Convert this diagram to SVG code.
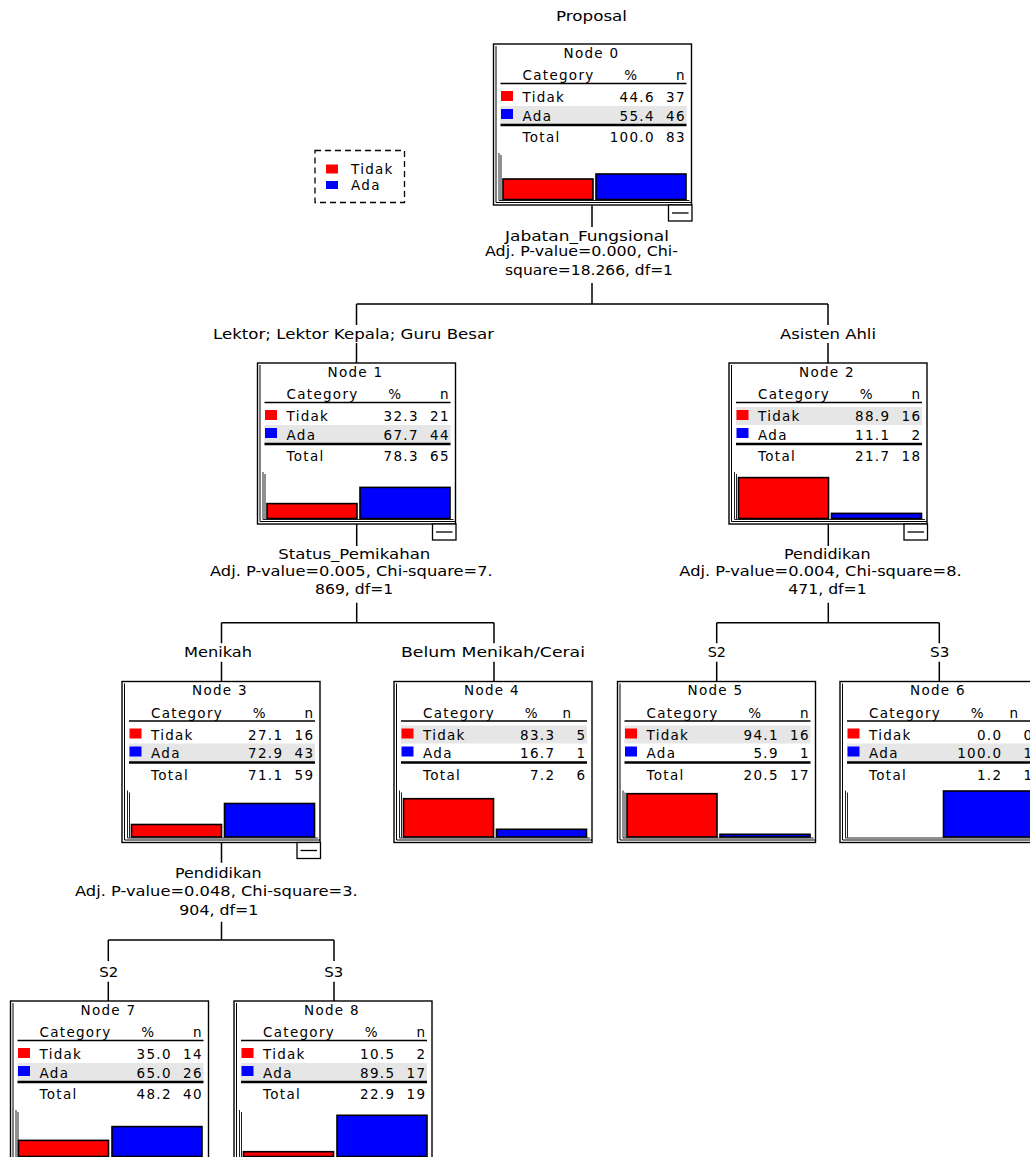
<svg xmlns="http://www.w3.org/2000/svg" width="1030" height="1157" viewBox="0 0 1030 1157">
<style>
text{font-family:"DejaVu Sans","Liberation Sans",sans-serif;font-size:13.5px;fill:#000}
.t{letter-spacing:1.3px}
.mid{text-anchor:middle}
.end{text-anchor:end}
.box{fill:#fff;stroke:#000;stroke-width:1.4}
.inner{fill:none;stroke:#000;stroke-width:1}
.hl{stroke:#000;stroke-width:1.5}
.dl{stroke:#000;stroke-width:2.5}
.band{fill:#e6e6e6}
.red{fill:#ff0000}
.blue{fill:#0000ff}
.bar{stroke:#000;stroke-width:1.6}
.axis{fill:none;stroke:#222;stroke-width:1}
.minus rect{fill:#fff;stroke:#000;stroke-width:1.3}
.minus line{stroke:#000;stroke-width:1.3}
.conn{fill:none;stroke:#000;stroke-width:1.5}
.legend{fill:none;stroke:#000;stroke-width:1.3;stroke-dasharray:6 4}
</style>

<text x="556" y="20.5" textLength="71" lengthAdjust="spacingAndGlyphs">Proposal</text>

<g id="legend">
<rect class="legend" x="315" y="150.5" width="89.5" height="52"/>
<rect class="red" x="326" y="164.5" width="12" height="9"/>
<text class="t" x="351" y="173.5">Tidak</text>
<rect class="blue" x="326" y="181" width="12" height="8"/>
<text class="t" x="351" y="189.5">Ada</text>
</g>

<g id="connectors" class="conn">
<path d="M592 205.5 V227 M592 283 V304 M356.5 304 H828 M356.5 304 V325 M828 304 V325 M356.5 343 V363 M828 343 V363"/>
<path d="M356.7 524 V546 M356.7 602.7 V622.7 M221.5 622.7 H494 M221.5 622.7 V643.3 M494 622.7 V643.3 M221.5 661.7 V681.5 M494 661.7 V681.5"/>
<path d="M828.3 524 V546 M828.3 602.7 V622.7 M716.7 622.7 H939.3 M716.7 622.7 V643.3 M939.3 622.7 V643.3 M716.7 661.7 V681.5 M939.3 661.7 V681.5"/>
<path d="M221.5 842.5 V862.7 M221.5 921.7 V940 M108.3 940 H334 M108.3 940 V961 M334 940 V961 M108.3 981.7 V1001 M334 981.7 V1001"/>
</g>

<g id="labels">
<text x="505" y="240.5" textLength="164" lengthAdjust="spacingAndGlyphs">Jabatan_Fungsional</text>
<text x="485" y="256" textLength="193" lengthAdjust="spacingAndGlyphs">Adj. P-value=0.000, Chi-</text>
<text x="505" y="275" textLength="168" lengthAdjust="spacingAndGlyphs">square=18.266, df=1</text>
<text x="213" y="338.5" textLength="281" lengthAdjust="spacingAndGlyphs">Lektor; Lektor Kepala; Guru Besar</text>
<text x="780" y="338.5" textLength="96" lengthAdjust="spacingAndGlyphs">Asisten Ahli</text>

<text x="278.3" y="558.5" textLength="152" lengthAdjust="spacingAndGlyphs">Status_Pemikahan</text>
<text x="210" y="576" textLength="282.7" lengthAdjust="spacingAndGlyphs">Adj. P-value=0.005, Chi-square=7.</text>
<text x="315" y="594" textLength="78.3" lengthAdjust="spacingAndGlyphs">869, df=1</text>
<text x="184" y="657" textLength="68" lengthAdjust="spacingAndGlyphs">Menikah</text>
<text x="401" y="657" textLength="184" lengthAdjust="spacingAndGlyphs">Belum Menikah/Cerai</text>

<text x="784" y="558.5" textLength="86.7" lengthAdjust="spacingAndGlyphs">Pendidikan</text>
<text x="679.3" y="576" textLength="282.4" lengthAdjust="spacingAndGlyphs">Adj. P-value=0.004, Chi-square=8.</text>
<text x="788.3" y="594" textLength="78.4" lengthAdjust="spacingAndGlyphs">471, df=1</text>
<text x="707.7" y="657" textLength="18.3" lengthAdjust="spacingAndGlyphs">S2</text>
<text x="930" y="657" textLength="19.3" lengthAdjust="spacingAndGlyphs">S3</text>

<text x="175" y="878" textLength="86.7" lengthAdjust="spacingAndGlyphs">Pendidikan</text>
<text x="75" y="896" textLength="282.7" lengthAdjust="spacingAndGlyphs">Adj. P-value=0.048, Chi-square=3.</text>
<text x="179.3" y="914.5" textLength="79" lengthAdjust="spacingAndGlyphs">904, df=1</text>
<text x="99.3" y="977" textLength="19" lengthAdjust="spacingAndGlyphs">S2</text>
<text x="324.3" y="977" textLength="19" lengthAdjust="spacingAndGlyphs">S3</text>
</g>

<g id="node0" transform="translate(493.5,44)">
<rect class="box" x="0" y="0" width="198" height="161"/>
<path class="inner" d="M2.5 2 V158.5 H198"/>
<text class="t mid" x="98" y="13.5">Node 0</text>
<text class="t" x="29" y="36">Category</text><text class="t mid" x="137.7" y="36">%</text><text class="t end" x="192.3" y="36">n</text>
<line class="hl" x1="7" y1="39.5" x2="193" y2="39.5"/>
<rect class="band" x="7" y="62" width="186" height="18"/>
<rect class="red" x="7.5" y="47" width="12" height="10"/>
<text class="t" x="29" y="58">Tidak</text><text class="t end" x="161.3" y="58">44.6</text><text class="t end" x="192.3" y="58">37</text>
<rect class="blue" x="7.5" y="65" width="12" height="10"/>
<text class="t" x="29" y="76.5">Ada</text><text class="t end" x="161.3" y="76.5">55.4</text><text class="t end" x="192.3" y="76.5">46</text>
<line class="dl" x1="7" y1="81" x2="193" y2="81"/>
<text class="t" x="29" y="98">Total</text><text class="t end" x="161.3" y="98">100.0</text><text class="t end" x="192.3" y="98">83</text>
<path class="axis" d="M5.5 109 V156.5 H196 M7.5 111 V156"/>
<rect class="bar red" x="9.5" y="135" width="90" height="20.5"/>
<rect class="bar blue" x="102.5" y="130" width="90" height="25.5"/>
<g class="minus"><rect x="175" y="161" width="23.5" height="16"/><line x1="178.5" y1="169" x2="195" y2="169"/></g>
</g>

<g id="node1" transform="translate(257.5,363)">
<rect class="box" x="0" y="0" width="198" height="161"/>
<path class="inner" d="M2.5 2 V158.5 H198"/>
<text class="t mid" x="98" y="13.5">Node 1</text>
<text class="t" x="29" y="36">Category</text><text class="t mid" x="137.7" y="36">%</text><text class="t end" x="192.3" y="36">n</text>
<line class="hl" x1="7" y1="39.5" x2="193" y2="39.5"/>
<rect class="band" x="7" y="62" width="186" height="18"/>
<rect class="red" x="7.5" y="47" width="12" height="10"/>
<text class="t" x="29" y="58">Tidak</text><text class="t end" x="161.3" y="58">32.3</text><text class="t end" x="192.3" y="58">21</text>
<rect class="blue" x="7.5" y="65" width="12" height="10"/>
<text class="t" x="29" y="76.5">Ada</text><text class="t end" x="161.3" y="76.5">67.7</text><text class="t end" x="192.3" y="76.5">44</text>
<line class="dl" x1="7" y1="81" x2="193" y2="81"/>
<text class="t" x="29" y="98">Total</text><text class="t end" x="161.3" y="98">78.3</text><text class="t end" x="192.3" y="98">65</text>
<path class="axis" d="M5.5 109 V156.5 H196 M7.5 111 V156"/>
<rect class="bar red" x="9.5" y="140.6" width="90" height="14.9"/>
<rect class="bar blue" x="102.5" y="124.4" width="90" height="31.1"/>
<g class="minus"><rect x="175" y="161" width="23.5" height="16"/><line x1="178.5" y1="169" x2="195" y2="169"/></g>
</g>

<g id="node2" transform="translate(729,363)">
<rect class="box" x="0" y="0" width="198" height="161"/>
<path class="inner" d="M2.5 2 V158.5 H198"/>
<text class="t mid" x="98" y="13.5">Node 2</text>
<text class="t" x="29" y="36">Category</text><text class="t mid" x="137.7" y="36">%</text><text class="t end" x="192.3" y="36">n</text>
<line class="hl" x1="7" y1="39.5" x2="193" y2="39.5"/>
<rect class="band" x="7" y="44" width="186" height="18"/>
<rect class="red" x="7.5" y="47" width="12" height="10"/>
<text class="t" x="29" y="58">Tidak</text><text class="t end" x="161.3" y="58">88.9</text><text class="t end" x="192.3" y="58">16</text>
<rect class="blue" x="7.5" y="65" width="12" height="10"/>
<text class="t" x="29" y="76.5">Ada</text><text class="t end" x="161.3" y="76.5">11.1</text><text class="t end" x="192.3" y="76.5">2</text>
<line class="dl" x1="7" y1="81" x2="193" y2="81"/>
<text class="t" x="29" y="98">Total</text><text class="t end" x="161.3" y="98">21.7</text><text class="t end" x="192.3" y="98">18</text>
<path class="axis" d="M5.5 109 V156.5 H196 M7.5 111 V156"/>
<rect class="bar red" x="9.5" y="114.6" width="90" height="40.9"/>
<rect class="bar blue" x="102.5" y="150.4" width="90" height="5.1"/>
<g class="minus"><rect x="175" y="161" width="23.5" height="16"/><line x1="178.5" y1="169" x2="195" y2="169"/></g>
</g>

<g id="node3" transform="translate(122,681.5)">
<rect class="box" x="0" y="0" width="198" height="161"/>
<path class="inner" d="M2.5 2 V158.5 H198"/>
<text class="t mid" x="98" y="13.5">Node 3</text>
<text class="t" x="29" y="36">Category</text><text class="t mid" x="137.7" y="36">%</text><text class="t end" x="192.3" y="36">n</text>
<line class="hl" x1="7" y1="39.5" x2="193" y2="39.5"/>
<rect class="band" x="7" y="62" width="186" height="18"/>
<rect class="red" x="7.5" y="47" width="12" height="10"/>
<text class="t" x="29" y="58">Tidak</text><text class="t end" x="161.3" y="58">27.1</text><text class="t end" x="192.3" y="58">16</text>
<rect class="blue" x="7.5" y="65" width="12" height="10"/>
<text class="t" x="29" y="76.5">Ada</text><text class="t end" x="161.3" y="76.5">72.9</text><text class="t end" x="192.3" y="76.5">43</text>
<line class="dl" x1="7" y1="81" x2="193" y2="81"/>
<text class="t" x="29" y="98">Total</text><text class="t end" x="161.3" y="98">71.1</text><text class="t end" x="192.3" y="98">59</text>
<path class="axis" d="M5.5 109 V156.5 H196 M7.5 111 V156"/>
<rect class="bar red" x="9.5" y="143" width="90" height="12.5"/>
<rect class="bar blue" x="102.5" y="122" width="90" height="33.5"/>
<g class="minus"><rect x="175" y="161" width="23.5" height="16"/><line x1="178.5" y1="169" x2="195" y2="169"/></g>
</g>

<g id="node4" transform="translate(394,681.5)">
<rect class="box" x="0" y="0" width="198" height="161"/>
<path class="inner" d="M2.5 2 V158.5 H198"/>
<text class="t mid" x="98" y="13.5">Node 4</text>
<text class="t" x="29" y="36">Category</text><text class="t mid" x="137.7" y="36">%</text><text class="t end" x="178.3" y="36">n</text>
<line class="hl" x1="7" y1="39.5" x2="193" y2="39.5"/>
<rect class="band" x="7" y="44" width="186" height="18"/>
<rect class="red" x="7.5" y="47" width="12" height="10"/>
<text class="t" x="29" y="58">Tidak</text><text class="t end" x="161.3" y="58">83.3</text><text class="t end" x="192.3" y="58">5</text>
<rect class="blue" x="7.5" y="65" width="12" height="10"/>
<text class="t" x="29" y="76.5">Ada</text><text class="t end" x="161.3" y="76.5">16.7</text><text class="t end" x="192.3" y="76.5">1</text>
<line class="dl" x1="7" y1="81" x2="193" y2="81"/>
<text class="t" x="29" y="98">Total</text><text class="t end" x="161.3" y="98">7.2</text><text class="t end" x="192.3" y="98">6</text>
<path class="axis" d="M5.5 109 V156.5 H196 M7.5 111 V156"/>
<rect class="bar red" x="9.5" y="117.2" width="90" height="38.3"/>
<rect class="bar blue" x="102.5" y="147.8" width="90" height="7.7"/>
</g>

<g id="node5" transform="translate(617.5,681.5)">
<rect class="box" x="0" y="0" width="198" height="161"/>
<path class="inner" d="M2.5 2 V158.5 H198"/>
<text class="t mid" x="98" y="13.5">Node 5</text>
<text class="t" x="29" y="36">Category</text><text class="t mid" x="137.7" y="36">%</text><text class="t end" x="192.3" y="36">n</text>
<line class="hl" x1="7" y1="39.5" x2="193" y2="39.5"/>
<rect class="band" x="7" y="44" width="186" height="18"/>
<rect class="red" x="7.5" y="47" width="12" height="10"/>
<text class="t" x="29" y="58">Tidak</text><text class="t end" x="161.3" y="58">94.1</text><text class="t end" x="192.3" y="58">16</text>
<rect class="blue" x="7.5" y="65" width="12" height="10"/>
<text class="t" x="29" y="76.5">Ada</text><text class="t end" x="161.3" y="76.5">5.9</text><text class="t end" x="192.3" y="76.5">1</text>
<line class="dl" x1="7" y1="81" x2="193" y2="81"/>
<text class="t" x="29" y="98">Total</text><text class="t end" x="161.3" y="98">20.5</text><text class="t end" x="192.3" y="98">17</text>
<path class="axis" d="M5.5 109 V156.5 H196 M7.5 111 V156"/>
<rect class="bar red" x="9.5" y="112.2" width="90" height="43.3"/>
<rect class="bar blue" x="102.5" y="152.8" width="90" height="2.7"/>
</g>

<g id="node6" transform="translate(840,681.5)">
<rect class="box" x="0" y="0" width="198" height="161"/>
<path class="inner" d="M2.5 2 V158.5 H198"/>
<text class="t mid" x="98" y="13.5">Node 6</text>
<text class="t" x="29" y="36">Category</text><text class="t mid" x="137.7" y="36">%</text><text class="t end" x="179.3" y="36">n</text>
<line class="hl" x1="7" y1="39.5" x2="193" y2="39.5"/>
<rect class="band" x="7" y="62" width="186" height="18"/>
<rect class="red" x="7.5" y="47" width="12" height="10"/>
<text class="t" x="29" y="58">Tidak</text><text class="t end" x="162.3" y="58">0.0</text><text class="t end" x="193.3" y="58">0</text>
<rect class="blue" x="7.5" y="65" width="12" height="10"/>
<text class="t" x="29" y="76.5">Ada</text><text class="t end" x="162.3" y="76.5">100.0</text><text class="t end" x="193.3" y="76.5">1</text>
<line class="dl" x1="7" y1="81" x2="193" y2="81"/>
<text class="t" x="29" y="98">Total</text><text class="t end" x="162.3" y="98">1.2</text><text class="t end" x="193.3" y="98">1</text>
<path class="axis" d="M5.5 109 V156.5 H196 M7.5 111 V156"/>
<rect class="bar blue" x="103.5" y="109.5" width="90" height="46"/>
</g>

<g id="node7" transform="translate(10.5,1001)">
<rect class="box" x="0" y="0" width="198" height="161"/>
<path class="inner" d="M2.5 2 V158.5 H198"/>
<text class="t mid" x="98" y="13.5">Node 7</text>
<text class="t" x="29" y="36">Category</text><text class="t mid" x="137.7" y="36">%</text><text class="t end" x="192.3" y="36">n</text>
<line class="hl" x1="7" y1="39.5" x2="193" y2="39.5"/>
<rect class="band" x="7" y="62" width="186" height="18"/>
<rect class="red" x="7.5" y="47" width="12" height="10"/>
<text class="t" x="29" y="58">Tidak</text><text class="t end" x="161.3" y="58">35.0</text><text class="t end" x="192.3" y="58">14</text>
<rect class="blue" x="7.5" y="65" width="12" height="10"/>
<text class="t" x="29" y="76.5">Ada</text><text class="t end" x="161.3" y="76.5">65.0</text><text class="t end" x="192.3" y="76.5">26</text>
<line class="dl" x1="7" y1="81" x2="193" y2="81"/>
<text class="t" x="29" y="98">Total</text><text class="t end" x="161.3" y="98">48.2</text><text class="t end" x="192.3" y="98">40</text>
<path class="axis" d="M5.5 109 V156.5 H196 M7.5 111 V156"/>
<rect class="bar red" x="8" y="139.4" width="90" height="16.1"/>
<rect class="bar blue" x="101.5" y="125.6" width="90" height="29.9"/>
</g>

<g id="node8" transform="translate(234,1001)">
<rect class="box" x="0" y="0" width="198" height="161"/>
<path class="inner" d="M2.5 2 V158.5 H198"/>
<text class="t mid" x="98" y="13.5">Node 8</text>
<text class="t" x="29" y="36">Category</text><text class="t mid" x="137.7" y="36">%</text><text class="t end" x="192.3" y="36">n</text>
<line class="hl" x1="7" y1="39.5" x2="193" y2="39.5"/>
<rect class="band" x="7" y="62" width="186" height="18"/>
<rect class="red" x="7.5" y="47" width="12" height="10"/>
<text class="t" x="29" y="58">Tidak</text><text class="t end" x="161.3" y="58">10.5</text><text class="t end" x="192.3" y="58">2</text>
<rect class="blue" x="7.5" y="65" width="12" height="10"/>
<text class="t" x="29" y="76.5">Ada</text><text class="t end" x="161.3" y="76.5">89.5</text><text class="t end" x="192.3" y="76.5">17</text>
<line class="dl" x1="7" y1="81" x2="193" y2="81"/>
<text class="t" x="29" y="98">Total</text><text class="t end" x="161.3" y="98">22.9</text><text class="t end" x="192.3" y="98">19</text>
<path class="axis" d="M5.5 109 V156.5 H196 M7.5 111 V156"/>
<rect class="bar red" x="9.5" y="150.7" width="90" height="4.8"/>
<rect class="bar blue" x="103" y="114.3" width="90" height="41.2"/>
</g>
</svg>
